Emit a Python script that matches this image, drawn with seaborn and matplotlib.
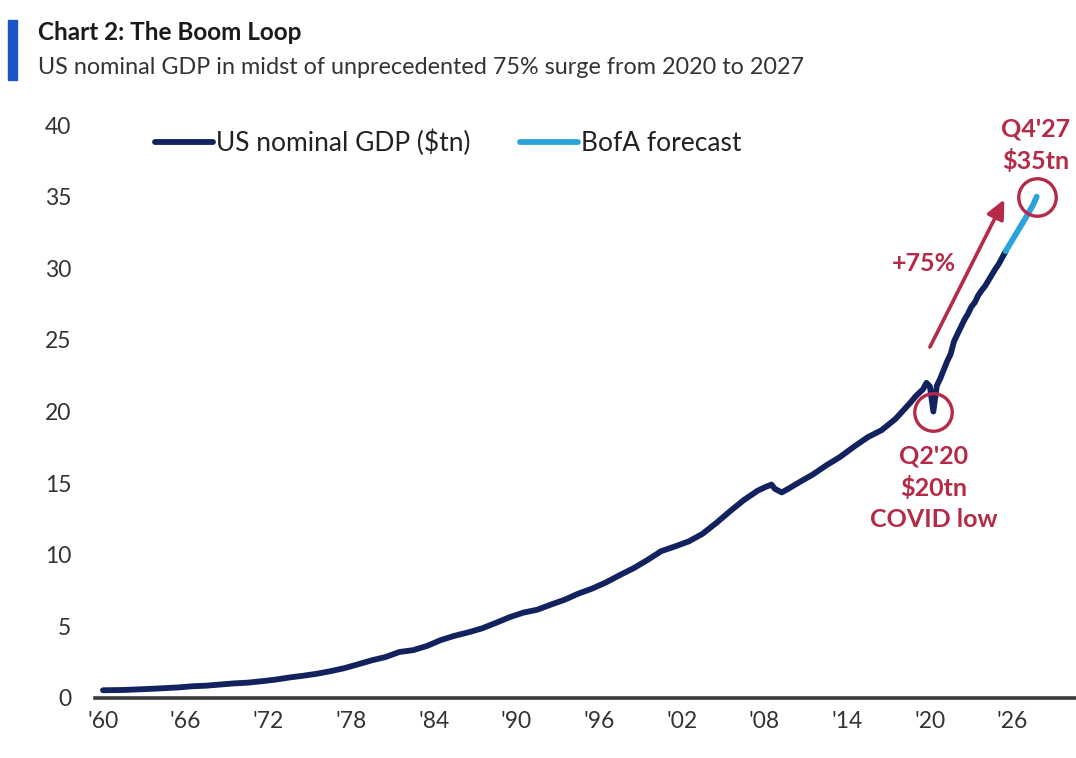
import matplotlib
matplotlib.use("Agg")
import matplotlib.pyplot as plt
from matplotlib.lines import Line2D
from matplotlib.patches import Rectangle
import pandas as pd
import seaborn as sns

# US nominal GDP, $tn (history)
hist_years = [1960.0, 1961.5, 1962.5, 1963.5, 1964.5, 1965.5, 1966.5, 1967.5, 1968.5, 1969.5,
              1970.5, 1971.5, 1972.5, 1973.5, 1974.5, 1975.5, 1976.5, 1977.5, 1978.5, 1979.5,
              1980.5, 1981.5, 1982.5, 1983.5, 1984.5, 1985.5, 1986.5, 1987.5, 1988.5, 1989.5,
              1990.5, 1991.5, 1992.5, 1993.5, 1994.5, 1995.5, 1996.5, 1997.5, 1998.5, 1999.5,
              2000.5, 2001.5, 2002.5, 2003.5, 2004.5, 2005.5, 2006.5, 2007.5, 2008.0, 2008.5,
              2008.75, 2009.25, 2009.75, 2010.5, 2011.5, 2012.5, 2013.5, 2014.5, 2015.5, 2016.5,
              2017.5, 2018.5, 2019.0, 2019.5, 2019.75, 2020.0, 2020.25, 2020.5, 2020.75, 2021.0,
              2021.25, 2021.5, 2021.75, 2022.0, 2022.25, 2022.5, 2022.75, 2023.0, 2023.25, 2023.5,
              2023.75, 2024.0, 2024.25, 2024.5, 2024.75, 2025.0, 2025.25, 2025.5]
hist_gdp = [0.54, 0.56, 0.60, 0.64, 0.69, 0.74, 0.82, 0.86, 0.94, 1.02,
            1.07, 1.17, 1.28, 1.43, 1.55, 1.69, 1.87, 2.08, 2.35, 2.63,
            2.86, 3.21, 3.34, 3.63, 4.04, 4.34, 4.58, 4.86, 5.24, 5.64,
            5.96, 6.16, 6.52, 6.86, 7.29, 7.64, 8.07, 8.58, 9.06, 9.63,
            10.25, 10.58, 10.93, 11.46, 12.22, 13.04, 13.82, 14.47, 14.70, 14.90,
            14.60, 14.35, 14.62, 15.05, 15.60, 16.25, 16.84, 17.55, 18.21, 18.70,
            19.48, 20.53, 21.10, 21.55, 22.00, 21.75, 20.00, 21.80, 22.30, 22.90,
            23.50, 24.00, 24.90, 25.40, 25.90, 26.40, 26.80, 27.30, 27.60, 28.10,
            28.45, 28.75, 29.15, 29.55, 29.95, 30.30, 30.75, 31.20]

# BofA forecast, $tn
fc_years = [2025.5, 2025.75, 2026.0, 2026.5, 2027.0, 2027.5, 2027.75]
fc_gdp = [31.20, 31.60, 32.00, 32.80, 33.60, 34.45, 35.00]

x_ticks = [1960, 1966, 1972, 1978, 1984, 1990, 1996, 2002, 2008, 2014, 2020, 2026]
x_labels = ["'60", "'66", "'72", "'78", "'84", "'90", "'96", "'02", "'08", "'14", "'20", "'26"]
y_ticks = [0, 5, 10, 15, 20, 25, 30, 35, 40]

series_names = ["US nominal GDP ($tn)", "BofA forecast"]

NAVY = "#12225E"
SKY = "#2BA4DB"
CRIMSON = "#B52A47"
GREY = "#333333"

sns.set_theme(style="white")
plt.rcParams["font.family"] = ["Lato", "DejaVu Sans"]

df = pd.concat([
    pd.DataFrame({"year": hist_years, "gdp": hist_gdp, "series": series_names[0]}),
    pd.DataFrame({"year": fc_years, "gdp": fc_gdp, "series": series_names[1]}),
])

fig = plt.figure(figsize=(10.76, 7.58), dpi=100)
ax = fig.add_axes([95 / 1076, 60 / 758, 1 - 95 / 1076, 573 / 758])

sns.lineplot(data=df, x="year", y="gdp", hue="series",
             palette={series_names[0]: NAVY, series_names[1]: SKY},
             linewidth=4.2, ax=ax, legend=False, sort=False)
for ln in ax.lines:
    ln.set_solid_capstyle("round")
    ln.set_solid_joinstyle("round")

ax.set_xlim(1959.42, 2030.6)
ax.set_ylim(0, 40)
ax.set_xticks(x_ticks)
ax.set_xticklabels(x_labels)
ax.set_yticks(y_ticks)
ax.set_xlabel("")
ax.set_ylabel("")
ax.tick_params(axis="both", length=0, labelsize=16.5, colors=GREY)
ax.tick_params(axis="y", pad=17)
ax.tick_params(axis="x", pad=9)
for side in ("left", "right", "top"):
    ax.spines[side].set_visible(False)
ax.spines["bottom"].set_color("#3a3a3a")
ax.spines["bottom"].set_linewidth(2.6)
ax.grid(False)

# legend
handles = [Line2D([], [], color=NAVY, lw=4.2), Line2D([], [], color=SKY, lw=4.2)]
ax.legend(handles, series_names, loc="center left",
          bbox_to_anchor=(155 / 1076, 1 - 143 / 758), bbox_transform=fig.transFigure,
          ncol=2, frameon=False, fontsize=19, handlelength=2.2, handletextpad=0.1,
          columnspacing=1.9, borderpad=0, borderaxespad=0, labelcolor="#222222")

# highlighted points
i_low = hist_years.index(2020.25)
low_x, low_y = hist_years[i_low], hist_gdp[i_low]
end_x, end_y = fc_years[-1], fc_gdp[-1]
ax.plot([low_x, end_x], [low_y, end_y], linestyle="none", marker="o", markersize=27,
        markerfacecolor="none", markeredgecolor=CRIMSON, markeredgewidth=2.4,
        clip_on=False, zorder=5)

ax.text(low_x, low_y - 5.3, "Q2'20\n$%dtn\nCOVID low" % round(low_y), color=CRIMSON,
        fontsize=18, fontweight="bold", ha="center", va="center", linespacing=1.42)
ax.text(end_x - 0.1, end_y + 3.6, "Q4'27\n$%dtn" % round(end_y), color=CRIMSON,
        fontsize=18, fontweight="bold", ha="center", va="center", linespacing=1.42)

ax.annotate("", xy=(2025.4, 34.8), xytext=(2020.0, 24.5),
            arrowprops=dict(arrowstyle="-|>,head_length=0.95,head_width=0.45",
                            color=CRIMSON, lw=2.6, shrinkA=0, shrinkB=0))
ax.text(2019.6, 30.3, "+%d%%" % round((end_y / low_y - 1) * 100), color=CRIMSON,
        fontsize=18, fontweight="bold", ha="center", va="center")

# heading
fig.patches.append(Rectangle((8 / 1076, 1 - 80 / 758), 9 / 1076, 60 / 758,
                             transform=fig.transFigure, color="#1A56C4"))
fig.text(38 / 1076, 1 - 32 / 758, "Chart 2: The Boom Loop", fontsize=17.5,
         fontweight="bold", color="#1a1a1a", va="center", ha="left")
fig.text(38 / 1076, 1 - 68 / 758,
         "US nominal GDP in midst of unprecedented 75% surge from 2020 to 2027",
         fontsize=16.8, color="#333333", va="center", ha="left")

fig.savefig("out.png", dpi=100, facecolor="white")
